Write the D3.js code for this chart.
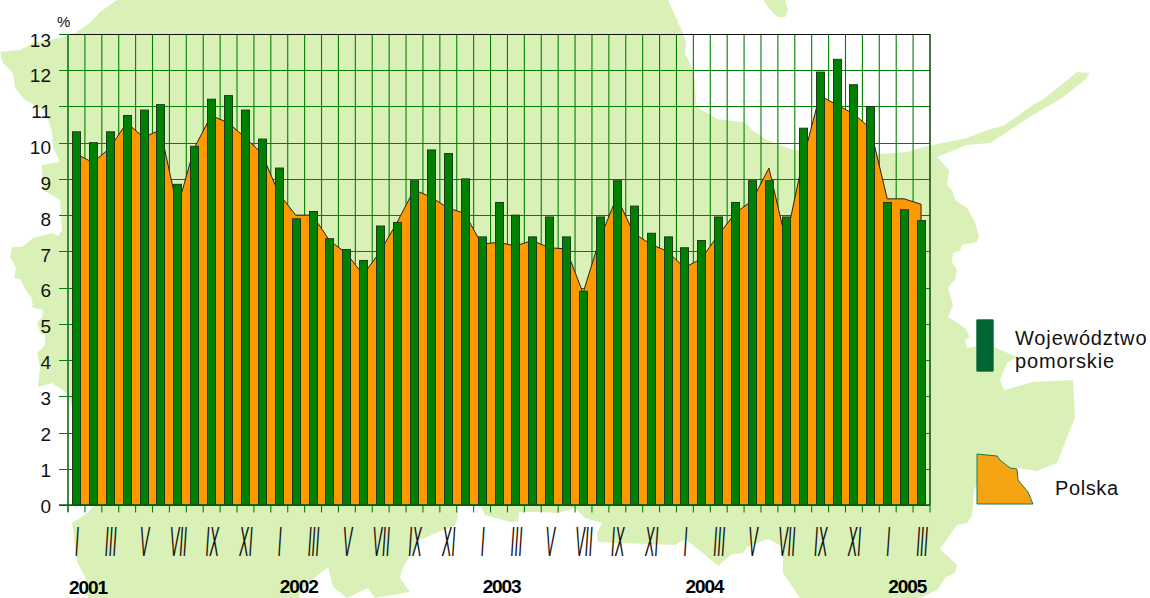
<!DOCTYPE html>
<html>
<head>
<meta charset="utf-8">
<script src="https://cdn.jsdelivr.net/npm/d3@7"></script>
<style>
  html, body { margin: 0; padding: 0; background: #fff; }
  svg { display: block; font-family: 'Liberation Sans', Arial, sans-serif; }
</style>
</head>
<body>
<div id="chart"></div>
<script>
const monthTicks = [
  'I', '', 'III', '', 'V', '', 'VII', '', 'IX', '', 'XI', '',
  'I', '', 'III', '', 'V', '', 'VII', '', 'IX', '', 'XI', '',
  'I', '', 'III', '', 'V', '', 'VII', '', 'IX', '', 'XI', '',
  'I', '', 'III', '', 'V', '', 'VII', '', 'IX', '', 'XI', '',
  'I', '', 'III',
]

const pomorskie = [
  10.3, 10.0, 10.3, 10.75, 10.9, 11.05, 8.85, 9.9, 11.2, 11.3, 10.9, 10.1,
  9.3, 7.9, 8.1, 7.35, 7.05, 6.75, 7.7, 7.8, 8.95, 9.8, 9.7, 9.0,
  7.4, 8.35, 8.0, 7.4, 7.95, 7.4, 5.9, 7.95, 8.95, 8.25, 7.5, 7.4,
  7.1, 7.3, 7.95, 8.35, 8.95, 8.95, 7.95, 10.4, 11.95, 12.3, 11.6, 11.0,
  8.35, 8.15, 7.85,
]

const polska = [
  9.7, 9.45, 9.85, 10.55, 10.15, 10.35, 8.2, 9.85, 10.75, 10.55, 10.15, 9.7,
  8.6, 8.0, 8.0, 7.3, 6.95, 6.35, 7.0, 7.8, 8.7, 8.5, 8.2, 8.05,
  7.2, 7.25, 7.15, 7.3, 7.1, 7.07, 5.85, 7.35, 8.5, 7.5, 7.2, 7.0,
  6.55, 6.8, 7.45, 8.05, 8.4, 9.3, 7.3, 9.5, 11.3, 11.05, 10.8, 10.4,
  8.45, 8.45, 8.3,
]

const yTicks = d3.range(0, 14)
const years = ['2001', '2002', '2003', '2004', '2005']
const legendLines = ['Województwo', 'pomorskie']
const legendPolska = 'Polska'

// outline of the Pomerania map behind the chart, page pixels
const mapOutline = [
  [117, 0], [668, 0], [683, 33], [686, 42], [685, 55], [687, 57], [694, 72], [696, 100], [695, 106],
  [707, 113], [717, 119], [742, 122], [748, 125], [752, 130], [767, 140], [793, 150], [880, 154],
  [907, 152], [927, 146], [967, 138], [987, 130], [1003, 126], [1033, 105], [1045, 98], [1077, 72],
  [1090, 73], [1085, 80], [1062, 98], [1033, 115], [990, 143], [967, 145], [937, 157], [949, 170],
  [947, 185], [952, 190], [955, 200], [967, 208], [975, 222], [979, 237], [977, 242], [962, 245],
  [960, 251], [953, 253], [952, 262], [957, 270], [955, 280], [948, 287], [953, 305], [948, 317],
  [965, 328], [970, 337], [965, 340], [967, 348], [987, 344], [1017, 357], [1007, 363], [1000, 380],
  [1004, 390], [1033, 382], [1073, 380], [1075, 417], [1057, 463], [1037, 471], [1017, 468],
  [985, 468], [974, 490], [973, 503], [972, 515], [967, 523], [957, 525], [940, 549], [957, 565],
  [955, 573], [946, 577], [937, 590], [920, 598], [800, 598], [783, 573], [783, 547], [768, 539],
  [747, 547], [743, 553], [732, 554], [718, 566], [703, 553], [685, 539], [675, 545], [598, 542],
  [597, 533], [602, 523], [585, 518], [575, 508], [558, 513], [542, 512], [519, 512], [518, 522],
  [510, 522], [485, 515], [478, 500], [457, 500], [458, 518], [455, 525], [420, 540], [403, 567],
  [400, 578], [410, 592], [375, 598], [368, 588], [347, 598], [333, 587], [328, 567], [308, 583],
  [299, 594], [299, 598], [88, 598], [85, 577], [77, 562], [72, 523], [85, 515], [100, 500],
  [80, 430], [67, 393], [52, 383], [38, 387], [40, 367], [37, 353], [45, 345], [45, 335], [40, 333],
  [37, 322], [42, 318], [43, 310], [31, 307], [33, 305], [31, 297], [27, 292], [20, 279], [14, 278],
  [16, 268], [10, 257], [12, 247], [22, 247], [33, 238], [52, 233], [58, 236], [62, 230], [60, 200],
  [43, 190], [42, 165], [60, 162], [53, 147], [52, 133], [49, 122], [43, 110], [25, 100], [15, 88],
  [13, 73], [3, 63], [0, 52], [20, 50], [33, 43], [60, 38], [75, 33], [90, 23], [100, 12],
]
const mapIsland = [[763, 0], [773, 13], [778, 17], [785, 17], [788, 10], [785, 0]]
const polskaShape = [
  [977, 454], [997, 456], [1000, 460], [1010, 468], [1017, 469], [1018, 480], [1028, 492], [1033, 504], [977, 504],
]

const plotLeft = 68
const plotRight = 930
const plotTop = 34
const plotBottom = 505
const plotWidth = plotRight - plotLeft
const plotHeight = plotBottom - plotTop
const barWidth = 8

const svg = d3.select('#chart').append('svg').attr('width', 1150).attr('height', 598)

const xScale = d3.scaleBand().domain(d3.range(monthTicks.length)).range([plotLeft, plotRight])
const xCenter = i => xScale(i) + xScale.bandwidth() / 2 - 0.5
const xGrid = d3.scaleLinear().domain([0, monthTicks.length]).range([plotLeft, plotRight])
const yScale = d3.scaleLinear().domain([0, 13]).range([plotBottom, plotTop])
// tick labels sit a bit off their grid lines in the original
const yLabelScale = d3.scaleLinear().domain([0, 13]).range([506, 40])

const line = d3.line().x(d => d[0]).y(d => d[1]).curve(d3.curveLinearClosed)

svg.append('path').attr('d', line(mapOutline)).attr('fill', '#d9f1b7')
svg.append('path').attr('d', line(mapIsland)).attr('fill', '#d9f1b7')

// horizontal grid
svg
  .append('g')
  .attr('transform', `translate(${plotLeft}, 0)`)
  .call(d3.axisLeft(yScale).tickValues(yTicks).tickFormat('').offset(0))
  .call(g => {
    g.select('.domain').remove()
    g.selectAll('.tick').attr('transform', d => `translate(0, ${Math.round(yScale(d)) + 0.5})`)
    g.selectAll('.tick line').attr('x1', -9).attr('x2', plotWidth).attr('stroke', '#008000').attr('stroke-width', 1)
  })

// vertical grid, with the little ticks under the axis
svg
  .append('g')
  .attr('transform', `translate(0, ${plotBottom})`)
  .call(d3.axisBottom(xGrid).tickValues(d3.range(monthTicks.length + 1)).tickFormat('').offset(0))
  .call(g => {
    g.select('.domain').remove()
    g.selectAll('.tick line').attr('y1', 7.5).attr('y2', -plotHeight).attr('stroke', '#008000').attr('stroke-width', 1.1)
  })

const area = d3
  .area()
  .x((d, i) => xCenter(i))
  .y0(plotBottom)
  .y1(d => yScale(d))

svg
  .append('path')
  .attr('d', area(polska))
  .attr('fill', '#ff9900')
  .attr('stroke', '#222')
  .attr('stroke-width', 1)

svg
  .append('g')
  .selectAll('rect')
  .data(pomorskie)
  .join('rect')
  .attr('x', (d, i) => Math.round(xCenter(i) - barWidth / 2) + 0.5)
  .attr('y', d => yScale(d))
  .attr('width', barWidth)
  .attr('height', d => plotBottom - yScale(d))
  .attr('fill', '#008000')
  .attr('stroke', '#1c3a1c')
  .attr('stroke-width', 1)

// frame
svg.append('line').attr('x1', plotLeft).attr('x2', plotRight).attr('y1', plotTop + 0.5).attr('y2', plotTop + 0.5).attr('stroke', '#111').attr('stroke-width', 1)
svg.append('line').attr('x1', plotRight).attr('x2', plotRight).attr('y1', plotTop).attr('y2', plotBottom).attr('stroke', '#1c4a1c').attr('stroke-width', 1.2)
svg.append('line').attr('x1', plotLeft).attr('x2', plotLeft).attr('y1', plotTop).attr('y2', plotBottom + 7).attr('stroke', '#2e7d32').attr('stroke-width', 1.6)
svg.append('line').attr('x1', plotLeft - 9).attr('x2', plotRight).attr('y1', plotBottom).attr('y2', plotBottom).attr('stroke', '#006400').attr('stroke-width', 1.6)

// y labels
svg
  .append('g')
  .selectAll('text')
  .data(yTicks)
  .join('text')
  .attr('x', 51)
  .attr('y', d => yLabelScale(d))
  .attr('text-anchor', 'end')
  .attr('dominant-baseline', 'central')
  .attr('font-size', 19)
  .attr('fill', '#111')
  .text(d => d)

svg.append('text').attr('x', 57).attr('y', 27).attr('font-size', 15).attr('fill', '#111').text('%')

// roman month labels, squeezed narrow
svg
  .append('g')
  .selectAll('text')
  .data(monthTicks.map((label, i) => ({ label, i })).filter(d => d.label))
  .join('text')
  .attr('transform', d => `translate(${xCenter(d.i) + 1}, 556) scale(0.33, 1)`)
  .attr('text-anchor', 'middle')
  .attr('font-size', 43)
  .attr('font-style', 'italic')
  .attr('fill', '#111')
  .text(d => d.label)

svg
  .append('g')
  .selectAll('text')
  .data(years)
  .join('text')
  .attr('x', (d, i) => xCenter(i * 12) + (i === 0 ? 12 : 20))
  .attr('y', (d, i) => (i === 0 ? 594 : 593))
  .attr('text-anchor', 'middle')
  .attr('font-size', 19)
  .attr('font-weight', 'bold')
  .attr('letter-spacing', -1.1)
  .attr('fill', '#000')
  .text(d => d)

// legend
svg.append('rect').attr('x', 976.5).attr('y', 319.5).attr('width', 17).attr('height', 52).attr('rx', 1).attr('fill', '#006633').attr('stroke', '#3c8a60').attr('stroke-width', 0.8)

svg
  .append('g')
  .selectAll('text')
  .data(legendLines)
  .join('text')
  .attr('x', 1015)
  .attr('y', (d, i) => 345 + i * 23)
  .attr('font-size', 20)
  .attr('letter-spacing', 0.85)
  .attr('fill', '#111')
  .text(d => d)

svg.append('path').attr('d', line(polskaShape)).attr('fill', '#f5a512').attr('stroke', '#1f7a4a').attr('stroke-width', 1)
svg.append('text').attr('x', 1055).attr('y', 495).attr('font-size', 20).attr('letter-spacing', 0.6).attr('fill', '#111').text(legendPolska)
</script>
</body>
</html>
